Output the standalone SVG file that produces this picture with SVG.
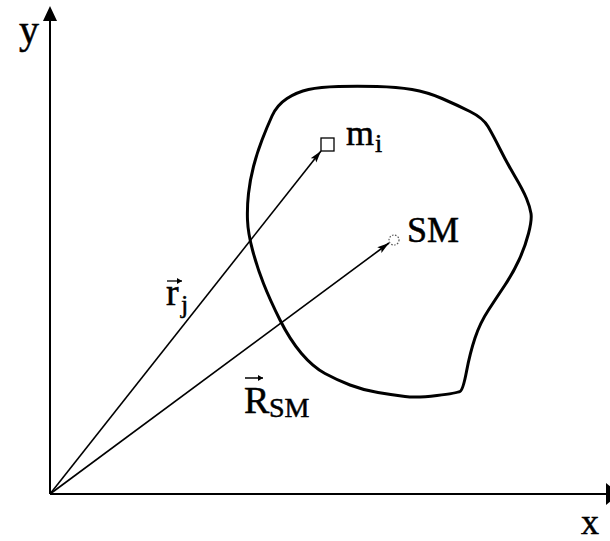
<svg xmlns="http://www.w3.org/2000/svg" width="610" height="541" viewBox="0 0 610 541">
<defs>
<style>
.lbl{font-family:"Liberation Serif","Times New Roman",serif;fill:#000;stroke:#000;stroke-width:0.5}
.vec{stroke:#000;stroke-width:1.6;fill:none}
.axis{stroke:#000;stroke-width:2;fill:none}
</style>
<marker id="ah" markerUnits="userSpaceOnUse" markerWidth="14" markerHeight="10" refX="12" refY="4" orient="auto">
<path d="M0,0.5 L12,4 L0,7.5 L2.5,4 Z" fill="#000"/>
</marker>
<marker id="sah" markerUnits="userSpaceOnUse" markerWidth="6" markerHeight="6" refX="5" refY="3" orient="auto">
<path d="M0,0 L5,3 L0,6 Z" fill="#000"/>
</marker>
</defs>
<rect width="610" height="541" fill="#fff"/>
<g id="axes">
<line class="axis" x1="50" y1="494" x2="50" y2="20"/>
<polygon points="50,6 43,21 57,21" fill="#000"/>
<line class="axis" x1="50" y1="494" x2="607" y2="494"/>
<polygon points="620,494 606,483 606,505" fill="#000"/>
<text class="lbl" x="19" y="43" font-size="40">y</text>
<text class="lbl" x="581" y="534" font-size="36">x</text>
</g>
<g id="body">
<path d="M 287,98.5 Q 297,92 308.5,89.5 Q 320,87 338.5,86.5 Q 357,86 377,86.5 Q 397,87 412,89.5 Q 427,92 442,98.5 Q 457,105 470,111.5 Q 483,118 488,126.5 Q 493,135 500,149 Q 507,163 515,176.5 Q 523,190 526.5,198.5 Q 530,207 531,213.5 Q 532,220 528.5,233.5 Q 525,247 519,260 Q 513,273 505,285 Q 497,297 488.5,310 Q 480,323 475,338 Q 470,353 466.5,371.5 Q 463,390 460,391.5 Q 457,393 437,395.5 Q 417,398 405,396.5 Q 393,395 378,392.5 Q 363,390 350,385 Q 337,380 325,373.5 Q 313,367 301.5,353.5 Q 290,340 280,320 Q 270,300 263.5,283.5 Q 257,267 252.5,250 Q 248,233 247.5,220 Q 247,207 248.5,193.5 Q 250,180 253.5,166.5 Q 257,153 262,140 Q 267,127 272,116 Q 277,105 287,98.5 Z" fill="none" stroke="#000" stroke-width="3" stroke-linejoin="round"/>
</g>
<g id="mass-element">
<rect x="321" y="138" width="13" height="13" fill="#fff" stroke="#000" stroke-width="1.3"/>
<text class="lbl" x="346" y="145" font-size="36">m</text>
<text class="lbl" x="375" y="152" font-size="26">i</text>
</g>
<g id="center-of-mass">
<circle cx="394" cy="240" r="5" fill="#fff" stroke="#555" stroke-width="1.2" stroke-dasharray="1.5,1.5"/>
<text class="lbl" x="407" y="242" font-size="36">SM</text>
</g>
<g id="connectors">
<line class="vec" x1="50" y1="494" x2="321" y2="151" marker-end="url(#ah)"/>
<line class="vec" x1="50" y1="494" x2="389" y2="243" marker-end="url(#ah)"/>
</g>
<g id="label-rj">
<line x1="167" y1="281" x2="182" y2="281" stroke="#000" stroke-width="1.3" marker-end="url(#sah)"/>
<text class="lbl" x="166" y="305" font-size="38">r</text>
<text class="lbl" x="181" y="313" font-size="26">j</text>
</g>
<g id="label-RSM">
<line x1="245" y1="378" x2="263" y2="378" stroke="#000" stroke-width="1.5" marker-end="url(#sah)"/>
<text class="lbl" x="244" y="413" font-size="38">R</text>
<text class="lbl" x="269" y="417" font-size="28">SM</text>
</g>
</svg>
